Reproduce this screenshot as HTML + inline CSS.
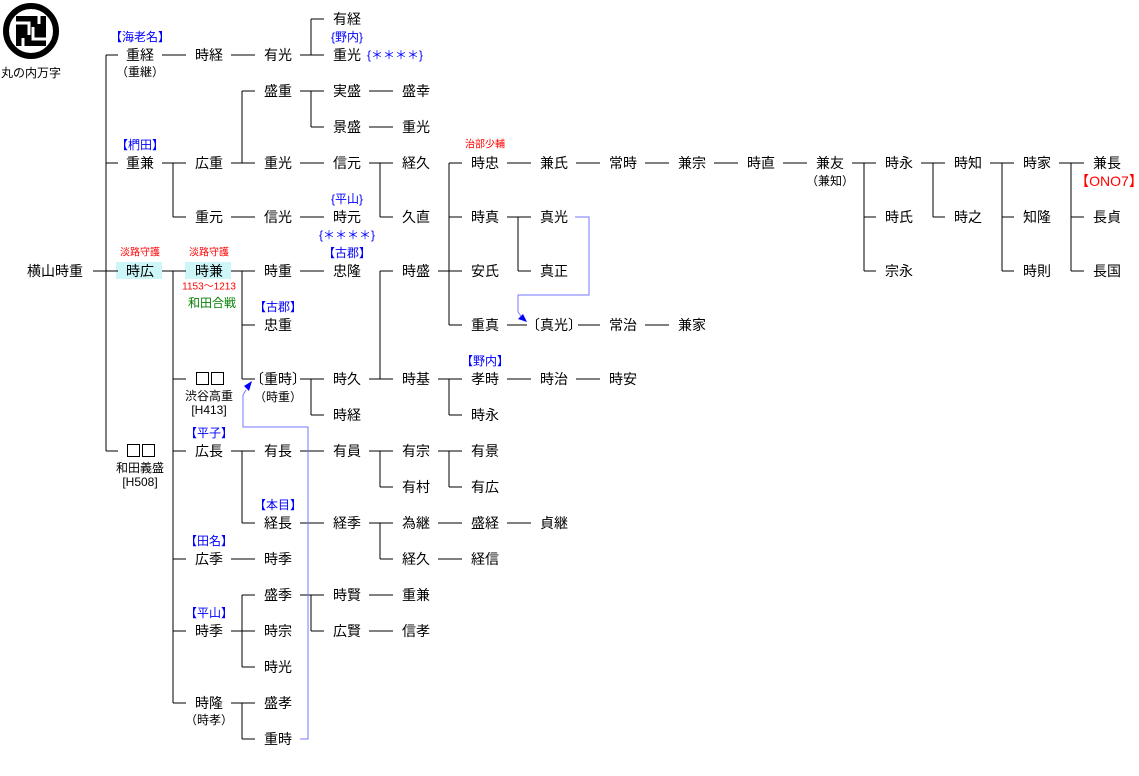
<!DOCTYPE html>
<html><head><meta charset="utf-8"><style>
html,body{margin:0;padding:0;background:#fff;}
svg{display:block;}
text{font-family:"Liberation Sans","Noto Sans CJK JP",sans-serif;dominant-baseline:central;text-anchor:middle;}
.n{font-size:14px;fill:#000;}
.s{font-size:12px;fill:#000;}
.b{font-size:12px;fill:#0000ff;}
.r{font-size:10px;fill:#ff0000;}
.g{font-size:12px;fill:#008000;}
</style></head><body>
<svg width="1139" height="776" viewBox="0 0 1139 776" xmlns="http://www.w3.org/2000/svg">
<rect width="1139" height="776" fill="#fff"/>
<!-- crest -->
<circle cx="31" cy="31" r="25" fill="none" stroke="#000" stroke-width="6"/>
<rect x="16" y="16" width="30" height="30" fill="#000"/>
<path d="M16 23 H29 V35 M46 39 H33 V27 M23 46 V38 M39 16 V24" stroke="#fff" stroke-width="3" fill="none"/>
<text class="s" x="31" y="73">丸の内万字</text>

<rect x="116" y="262" width="46" height="17" fill="#ccf6f8"/>
<rect x="185" y="262" width="46" height="17" fill="#ccf6f8"/>

<g stroke="#000" stroke-width="1" fill="none" shape-rendering="crispEdges">
<path d="M93 271H118 M106 55V451 M106 55H118 M106 163H118 M106 451H118"/>
<path d="M162 55H186 M231 55H255 M300 55H311 M311 19V55 M311 19H324 M311 55H324"/>
<path d="M162 163H173 M173 163V217 M173 163H186 M173 217H186"/>
<path d="M231 163H242 M242 91V163 M242 91H255 M242 163H255"/>
<path d="M300 91H311 M311 91V127 M311 91H324 M311 127H324 M369 91H393 M369 127H393"/>
<path d="M300 163H324 M369 163H380 M380 163V217 M380 163H393 M380 217H393"/>
<path d="M231 217H255 M300 217H324"/>
<path d="M162 271H186 M173 271V703 M173 379H186 M173 451H186 M173 559H186 M173 631H186 M173 703H186"/>
<path d="M231 271H255 M242 271V379 M242 325H255 M242 379H255 M300 271H324"/>
<path d="M380 271H393 M380 271V379 M369 379H393"/>
<path d="M300 379H324 M311 379V415 M311 415H324"/>
<path d="M438 271H449 M449 163V325 M449 163H462 M449 217H462 M449 271H462 M449 325H462"/>
<path d="M507 163H531 M576 163H600 M645 163H669 M714 163H738 M783 163H807"/>
<path d="M852 163H864 M864 163V271 M864 163H876 M864 217H876 M864 271H876"/>
<path d="M921 163H933 M933 163V217 M933 163H945 M933 217H945"/>
<path d="M990 163H1002 M1002 163V271 M1002 163H1014 M1002 217H1014 M1002 271H1014"/>
<path d="M1059 163H1071 M1071 163V271 M1071 163H1084 M1071 217H1084 M1071 271H1084"/>
<path d="M507 217H518 M518 217V271 M518 217H531 M518 271H531"/>
<path d="M507 325H527 M578 325H600 M645 325H669"/>
<path d="M438 379H449 M449 379V415 M449 379H462 M449 415H462 M507 379H531 M576 379H600"/>
<path d="M231 451H255 M242 451V523 M242 523H255 M300 451H324"/>
<path d="M369 451H380 M380 451V487 M380 451H393 M380 487H393 M438 451H449 M449 451V487 M449 451H462 M449 487H462"/>
<path d="M300 523H324 M369 523H380 M380 523V559 M380 523H393 M380 559H393 M438 523H462 M507 523H531 M438 559H462"/>
<path d="M231 559H255"/>
<path d="M231 631H242 M242 595V667 M242 595H255 M242 631H255 M242 667H255"/>
<path d="M300 595H311 M311 595V631 M311 595H324 M311 631H324 M369 595H393 M369 631H393"/>
<path d="M231 703H242 M242 703V739 M242 703H255 M242 739H255"/>
<!-- placeholder boxes -->
<rect x="196.5" y="372.5" width="12" height="12"/>
<rect x="211.5" y="372.5" width="12" height="12"/>
<rect x="127.5" y="444.5" width="12" height="12"/>
<rect x="142.5" y="444.5" width="12" height="12"/>
</g>
<g stroke="#7777ff" stroke-width="1" fill="none" shape-rendering="crispEdges">
<path d="M300 739H308V427H243V395"/>
<path d="M575 217H589V295H518V312"/>
</g>
<path d="M243 395 L246 390" stroke="#7777ff" fill="none"/>
<polygon points="252,381 244,386 249,391" fill="#0000ff"/>
<path d="M518 312 L521 316" stroke="#7777ff" fill="none"/>
<polygon points="527,322 518,319 523,314" fill="#0000ff"/>

<!-- names -->
<text class="n" x="55" y="271">横山時重</text>
<text class="b" x="140" y="37">【海老名】</text>
<text class="n" x="140" y="55">重経</text><text class="s" x="140" y="72">（重継）</text>
<text class="n" x="209" y="55">時経</text>
<text class="n" x="278" y="55">有光</text>
<text class="n" x="347" y="19">有経</text>
<text class="b" x="347" y="37">{野内}</text>
<text class="n" x="347" y="55">重光</text>
<text class="b" x="395" y="55">{＊＊＊＊}</text>

<text class="n" x="278" y="91">盛重</text>
<text class="n" x="347" y="91">実盛</text><text class="n" x="416" y="91">盛幸</text>
<text class="n" x="347" y="127">景盛</text><text class="n" x="416" y="127">重光</text>

<text class="b" x="140" y="145">【椚田】</text>
<text class="n" x="140" y="163">重兼</text>
<text class="n" x="209" y="163">広重</text>
<text class="n" x="278" y="163">重光</text>
<text class="n" x="347" y="163">信元</text>
<text class="n" x="416" y="163">経久</text>
<text class="n" x="209" y="217">重元</text>
<text class="n" x="278" y="217">信光</text>
<text class="b" x="347" y="199">{平山}</text>
<text class="n" x="347" y="217">時元</text>
<text class="b" x="347" y="235">{＊＊＊＊}</text>
<text class="n" x="416" y="217">久直</text>

<text class="r" x="140" y="253">淡路守護</text>
<text class="n" x="140" y="271">時広</text>
<text class="r" x="209" y="253">淡路守護</text>
<text class="n" x="209" y="271">時兼</text>
<text class="r" x="209" y="287">1153～1213</text>
<text class="g" x="212" y="303">和田合戦</text>
<text class="n" x="278" y="271">時重</text>
<text class="b" x="347" y="253">【古郡】</text>
<text class="n" x="347" y="271">忠隆</text>
<text class="n" x="416" y="271">時盛</text>
<text class="b" x="278" y="307">【古郡】</text>
<text class="n" x="278" y="325">忠重</text>

<text class="r" x="485" y="145">治部少輔</text>
<text class="n" x="485" y="163">時忠</text>
<text class="n" x="554" y="163">兼氏</text>
<text class="n" x="623" y="163">常時</text>
<text class="n" x="692" y="163">兼宗</text>
<text class="n" x="761" y="163">時直</text>
<text class="n" x="830" y="163">兼友</text><text class="s" x="830" y="181">（兼知）</text>
<text class="n" x="899" y="163">時永</text>
<text class="n" x="899" y="217">時氏</text>
<text class="n" x="899" y="271">宗永</text>
<text class="n" x="968" y="163">時知</text>
<text class="n" x="968" y="217">時之</text>
<text class="n" x="1037" y="163">時家</text>
<text class="n" x="1037" y="217">知隆</text>
<text class="n" x="1037" y="271">時則</text>
<text class="n" x="1107" y="163">兼長</text>
<text class="n" x="1109" y="181" style="fill:#ff0000">【ONO7】</text>
<text class="n" x="1107" y="217">長貞</text>
<text class="n" x="1107" y="271">長国</text>

<text class="n" x="485" y="217">時真</text>
<text class="n" x="554" y="217">真光</text>
<text class="n" x="485" y="271">安氏</text>
<text class="n" x="554" y="271">真正</text>
<text class="n" x="485" y="325">重真</text>
<text class="n" x="554" y="325">〔真光〕</text>
<text class="n" x="623" y="325">常治</text>
<text class="n" x="692" y="325">兼家</text>

<text class="s" x="209" y="396">渋谷高重</text>
<text class="s" x="209" y="410">[H413]</text>
<text class="n" x="278" y="379">〔重時〕</text>
<text class="s" x="278" y="397">（時重）</text>
<text class="n" x="347" y="379">時久</text>
<text class="n" x="347" y="415">時経</text>
<text class="n" x="416" y="379">時基</text>
<text class="b" x="485" y="361">【野内】</text>
<text class="n" x="485" y="379">孝時</text>
<text class="n" x="554" y="379">時治</text>
<text class="n" x="623" y="379">時安</text>
<text class="n" x="485" y="415">時永</text>

<text class="s" x="140" y="468">和田義盛</text>
<text class="s" x="140" y="482">[H508]</text>
<text class="b" x="209" y="433">【平子】</text>
<text class="n" x="209" y="451">広長</text>
<text class="n" x="278" y="451">有長</text>
<text class="n" x="347" y="451">有員</text>
<text class="n" x="416" y="451">有宗</text>
<text class="n" x="485" y="451">有景</text>
<text class="n" x="416" y="487">有村</text>
<text class="n" x="485" y="487">有広</text>
<text class="b" x="278" y="505">【本目】</text>
<text class="n" x="278" y="523">経長</text>
<text class="n" x="347" y="523">経季</text>
<text class="n" x="416" y="523">為継</text>
<text class="n" x="485" y="523">盛経</text>
<text class="n" x="554" y="523">貞継</text>
<text class="n" x="416" y="559">経久</text>
<text class="n" x="485" y="559">経信</text>

<text class="b" x="209" y="541">【田名】</text>
<text class="n" x="209" y="559">広季</text>
<text class="n" x="278" y="559">時季</text>
<text class="b" x="209" y="613">【平山】</text>
<text class="n" x="209" y="631">時季</text>
<text class="n" x="278" y="595">盛季</text>
<text class="n" x="278" y="631">時宗</text>
<text class="n" x="278" y="667">時光</text>
<text class="n" x="347" y="595">時賢</text>
<text class="n" x="416" y="595">重兼</text>
<text class="n" x="347" y="631">広賢</text>
<text class="n" x="416" y="631">信孝</text>
<text class="n" x="209" y="703">時隆</text>
<text class="s" x="209" y="720">（時孝）</text>
<text class="n" x="278" y="703">盛孝</text>
<text class="n" x="278" y="739">重時</text>
</svg>
</body></html>
